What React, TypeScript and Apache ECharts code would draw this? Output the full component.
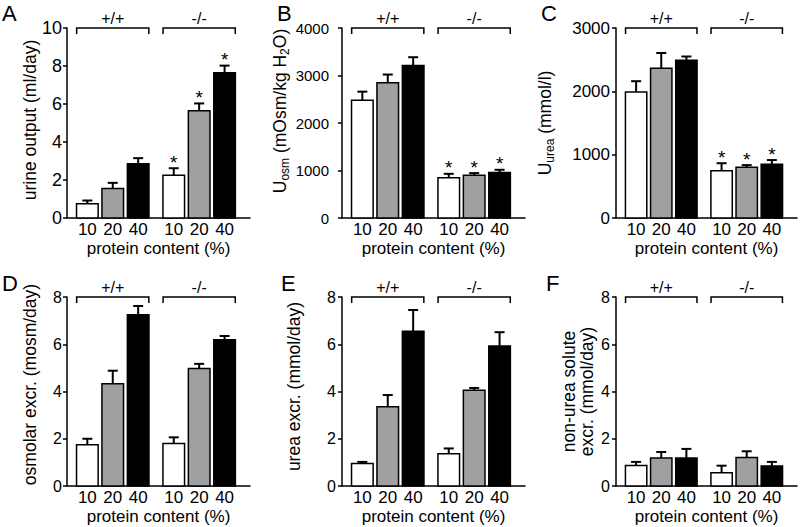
import { useEffect, useRef } from 'react';
import * as echarts from 'echarts';

// ---------- data ----------
const positions = [0, 1, 2, 3.4, 4.4, 5.4];
const proteinLabels = ['10', '20', '40', '10', '20', '40'];
const genotypes = ['+/+', '-/-'];
const barColors = ['#ffffff', '#a0a0a0', '#000000'];

const urineOutput = [0.75, 1.55, 2.85, 2.25, 5.65, 7.65];
const urineOutputSem = [0.17, 0.3, 0.3, 0.37, 0.38, 0.37];
const urineOutputSig = [0, 0, 0, 1, 1, 1];

const uOsm = [2480, 2850, 3210, 845, 900, 960];
const uOsmSem = [180, 170, 175, 85, 45, 55];
const uOsmSig = [0, 0, 0, 1, 1, 1];

const uUrea = [1990, 2365, 2490, 745, 800, 850];
const uUreaSem = [170, 240, 60, 120, 35, 65];
const uUreaSig = [0, 0, 0, 1, 1, 1];

const osmolarExcr = [1.75, 4.33, 7.25, 1.8, 4.97, 6.19];
const osmolarExcrSem = [0.25, 0.55, 0.37, 0.26, 0.2, 0.16];
const osmolarExcrSig = [0, 0, 0, 0, 0, 0];

const ureaExcr = [0.95, 3.35, 6.55, 1.36, 4.05, 5.93];
const ureaExcrSem = [0.07, 0.5, 0.9, 0.23, 0.1, 0.58];
const ureaExcrSig = [0, 0, 0, 0, 0, 0];

const nonUreaExcr = [0.87, 1.18, 1.18, 0.56, 1.21, 0.85];
const nonUreaExcrSem = [0.15, 0.26, 0.39, 0.3, 0.26, 0.17];
const nonUreaExcrSig = [0, 0, 0, 0, 0, 0];

const FONT = "'Liberation Sans', Arial, Helvetica, sans-serif";

const panels = [
  { letter: 'A', yName: 'urine output (ml/day)', max: 10, interval: 2, mean: urineOutput, sem: urineOutputSem, sig: urineOutputSig,
    left: 67, top: 28, height: 190, nameGap: 26, namePad: [0, 0, 0, 6], labelSize: 18, labelMargin: 5, lx: 2, ly: 2 },
  { letter: 'B', yName: 'U{s|osm} (mOsm/kg H{s|2}O)', max: 4000, interval: 1000, mean: uOsm, sem: uOsmSem, sig: uOsmSig,
    left: 342, top: 28, height: 190, nameGap: 51, namePad: [0, 0, 0, 24], labelSize: 15, labelMargin: 13, lx: 277, ly: 2 },
  { letter: 'C', yName: 'U{s|urea} (mmol/l)', max: 3000, interval: 1000, mean: uUrea, sem: uUreaSem, sig: uUreaSig,
    left: 616, top: 28, height: 190, nameGap: 60, namePad: [0, 0, 0, 0], labelSize: 17, labelMargin: 6, lx: 541, ly: 2 },
  { letter: 'D', yName: 'osmolar excr. (mosm/day)', max: 8, interval: 2, mean: osmolarExcr, sem: osmolarExcrSem, sig: osmolarExcrSig,
    left: 67, top: 297, height: 189, nameGap: 26, namePad: [0, 0, 0, 14], labelSize: 16, labelMargin: 5, lx: 2, ly: 272 },
  { letter: 'E', yName: 'urea excr. (mmol/day)', max: 8, interval: 2, mean: ureaExcr, sem: ureaExcrSem, sig: ureaExcrSig,
    left: 342, top: 297, height: 189, nameGap: 37, namePad: [0, 0, 0, 10], labelSize: 16, labelMargin: 6, lx: 281, ly: 272 },
  { letter: 'F', yName: 'non-urea solute\nexcr. (mmol/day)', max: 8, interval: 2, mean: nonUreaExcr, sem: nonUreaExcrSem, sig: nonUreaExcrSig,
    left: 616, top: 297, height: 189, nameGap: 20, namePad: [0, 0, 0, 0], labelSize: 16, labelMargin: 6, lx: 546, ly: 272 },
];

const labelFor = (v: number) => {
  const k = Math.round(v * 10);
  const i = positions.findIndex((p) => Math.round(p * 10) === k);
  return i >= 0 ? proteinLabels[i] : '';
};

export default function App() {
  const ref = useRef<HTMLDivElement>(null);
  useEffect(() => {
    if (!ref.current) return;
    const chart = echarts.init(ref.current, null, { renderer: 'svg' });

    const grid = panels.map((p) => ({ left: p.left, top: p.top, width: 183, height: p.height }));
    const xAxis = panels.map((p, i) => ({
      type: 'value', gridIndex: i, min: -0.8, max: 6.4, interval: 0.2,
      splitLine: { show: false }, axisTick: { show: false },
      axisLine: { show: true, onZero: false, lineStyle: { color: '#000', width: 1.5 } },
      axisLabel: { formatter: labelFor, color: '#000', fontSize: 17, margin: 3, fontFamily: FONT, showMinLabel: true, showMaxLabel: true },
      name: 'protein content (%)', nameLocation: 'middle', nameGap: 22, nameMoveOverlap: false,
      nameTextStyle: { color: '#000', fontSize: 17, fontFamily: FONT },
    }));
    const yAxis = panels.map((p, i) => ({
      type: 'value', gridIndex: i, min: 0, max: p.max, interval: p.interval,
      splitLine: { show: false },
      axisLine: { show: true, onZero: false, lineStyle: { color: '#000', width: 1.5 } },
      axisTick: { show: true, length: 4, lineStyle: { color: '#000', width: 1.5 } },
      axisLabel: { color: '#000', fontSize: p.labelSize, margin: p.labelMargin, fontFamily: FONT, formatter: (v: number) => String(v) },
      name: p.yName, nameLocation: 'middle', nameGap: p.nameGap, nameRotate: 90, nameMoveOverlap: false,
      nameTextStyle: {
        color: '#000', fontSize: 17.5, fontFamily: FONT, lineHeight: p.letter === 'F' ? 18 : 22, padding: p.namePad,
        rich: { s: { fontSize: 12, fontFamily: FONT, color: '#000', verticalAlign: 'bottom', lineHeight: 12 } },
      },
    }));

    const series: any[] = [];
    panels.forEach((p, i) => {
      const data = p.mean.map((m, j) => [positions[j], m, m + p.sem[j], p.sig[j], j % 3]);
      series.push({
        type: 'custom', xAxisIndex: i, yAxisIndex: i, data,
        encode: { x: 0, y: [1, 2] },
        renderItem: (_params: any, api: any) => {
          const x = api.value(0), v = api.value(1), e = api.value(2), s = api.value(3), c = api.value(4);
          const base = api.coord([x, 0]);
          const top = api.coord([x, v]);
          const et = api.coord([x, e]);
          const w = api.size([0.85, 0])[0];
          const children: any[] = [
            { type: 'line', shape: { x1: top[0], y1: top[1], x2: top[0], y2: et[1] }, style: { stroke: '#000', lineWidth: 2 } },
            { type: 'line', shape: { x1: top[0] - 5, y1: et[1], x2: top[0] + 5, y2: et[1] }, style: { stroke: '#000', lineWidth: 2 } },
            { type: 'rect', shape: { x: top[0] - w / 2, y: top[1], width: w, height: base[1] - top[1] },
              style: { fill: barColors[c], stroke: '#000', lineWidth: 1.5 } },
          ];
          if (s) {
            children.push({ type: 'text', style: { text: '*', x: top[0], y: et[1] - 6, textAlign: 'center', textVerticalAlign: 'middle',
              fontSize: 19, fontFamily: FONT, fill: '#000' } });
          }
          return { type: 'group', children };
        },
      });
      const brackets = genotypes.map((g, k) => [positions[k * 3] - 0.42, positions[k * 3 + 2] + 0.42, p.max]);
      series.push({
        type: 'custom', xAxisIndex: i, yAxisIndex: i, data: brackets,
        encode: { x: [0, 1], y: 2 },
        renderItem: (params: any, api: any) => {
          const a = api.coord([api.value(0), api.value(2)]);
          const b = api.coord([api.value(1), api.value(2)]);
          return {
            type: 'group',
            children: [
              { type: 'polyline', shape: { points: [[a[0], a[1] + 6], [a[0], a[1]], [b[0], b[1]], [b[0], b[1] + 6]] },
                style: { stroke: '#000', lineWidth: 1.5, fill: 'none' } },
              { type: 'text', style: { text: genotypes[params.dataIndex], x: (a[0] + b[0]) / 2, y: a[1] - 10,
                textAlign: 'center', textVerticalAlign: 'middle', fontSize: 16, fontFamily: FONT, fill: '#000' } },
            ],
          };
        },
      });
    });

    const graphic = panels.map((p) => ({
      type: 'text', left: p.lx, top: p.ly,
      style: { text: p.letter, fontSize: 22, fontFamily: FONT, fill: '#000' },
    }));

    chart.setOption({ animation: false, backgroundColor: '#fff', grid, xAxis, yAxis, series, graphic });
    return () => chart.dispose();
  }, []);
  return <div ref={ref} style={{ position: 'fixed', left: 0, top: 0, width: 800, height: 527 }} />;
}
